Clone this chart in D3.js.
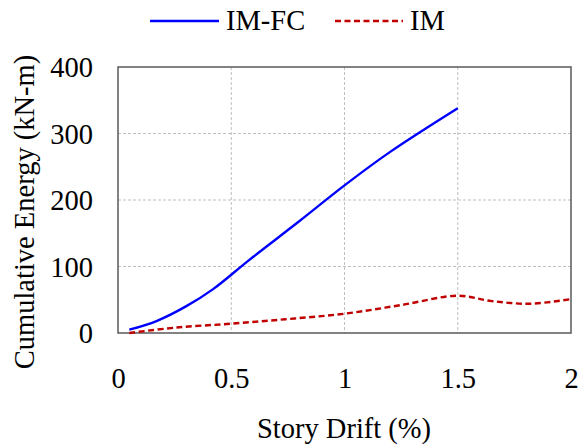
<!DOCTYPE html>
<html><head><meta charset="utf-8">
<script src="https://cdn.jsdelivr.net/npm/d3@7"></script>
<style>body{margin:0;background:#fff}svg{display:block}svg text{font-family:"Liberation Serif","Times New Roman",serif !important}</style>
</head><body>
<svg id="c" width="578" height="445"></svg>
<script>
const imfcX = [0.05, 0.17, 0.30, 0.42, 0.58, 0.80, 1.00, 1.20, 1.50];
const imfcY = [5, 18, 40, 66, 110, 168, 222, 272, 338];
const imX = [0.05, 0.25, 0.50, 0.75, 1.00, 1.25, 1.50, 1.65, 1.82, 2.00];
const imY = [0, 8, 14, 21, 29, 42, 56, 48, 44, 51];
const xTicks = [0, 0.5, 1, 1.5, 2];
const yTicks = [0, 100, 200, 300, 400];
const seriesNames = ["IM-FC", "IM"];

const FONT = '"Liberation Serif", "Times New Roman", serif';
const FS = 28.5;
const svg = d3.select("#c");
const L = 118, R = 571, T = 67, B = 333;
const x = d3.scaleLinear().domain([0, 2]).range([L, R]);
const y = d3.scaleLinear().domain([0, 400]).range([B, T]);

// grid
const g = svg.append("g");
g.selectAll(".gx").data(xTicks.slice(1, -1)).enter().append("line")
  .attr("x1", d => x(d)).attr("x2", d => x(d)).attr("y1", T).attr("y2", B)
  .attr("stroke", "#bfbfbf").attr("stroke-width", 1).attr("stroke-dasharray", "3,2");
g.selectAll(".gy").data(yTicks.slice(1, -1)).enter().append("line")
  .attr("y1", d => y(d)).attr("y2", d => y(d)).attr("x1", L).attr("x2", R)
  .attr("stroke", "#bfbfbf").attr("stroke-width", 1).attr("stroke-dasharray", "3,2");

// axes
const xa = svg.append("g").attr("transform", `translate(0,${B})`)
  .call(d3.axisBottom(x).tickValues(xTicks).tickSize(0).tickFormat(d3.format("")));
const ya = svg.append("g").attr("transform", `translate(${L},0)`)
  .call(d3.axisLeft(y).tickValues(yTicks).tickSize(0).tickPadding(25));
[xa, ya].forEach(a => {
  a.attr("font-family", null).attr("font-size", null);
  a.select(".domain").remove();
  a.selectAll("text").attr("fill", "#000").style("font-family", FONT).style("font-size", FS + "px");
});
xa.selectAll("text").attr("y", 55).attr("dy", 0);
ya.selectAll("text").attr("dy", "0.34em");

// frame
svg.append("rect").attr("x", L).attr("y", T).attr("width", R - L).attr("height", B - T)
  .attr("fill", "none").attr("stroke", "#595959").attr("stroke-width", 1.5);

const line = d3.line().x(d => x(d[0])).y(d => y(d[1])).curve(d3.curveCatmullRom.alpha(0.5));
svg.append("path").datum(imfcX.map((v, i) => [v, imfcY[i]])).attr("d", line)
  .attr("fill", "none").attr("stroke", "#0000ff").attr("stroke-width", 2.4);
svg.append("path").datum(imX.map((v, i) => [v, imY[i]])).attr("d", line)
  .attr("fill", "none").attr("stroke", "#c00000").attr("stroke-width", 2.4).attr("stroke-dasharray", "6,3.5");

// titles
svg.append("text").attr("x", 344).attr("y", 438).attr("text-anchor", "middle")
  .style("font-family", FONT).style("font-size", FS + "px").text("Story Drift (%)");
svg.append("text").attr("transform", "translate(34,212) rotate(-90)").attr("text-anchor", "middle")
  .style("font-family", FONT).style("font-size", FS + "px").text("Cumulative Energy (kN-m)");

// legend
const leg = [{x1: 150, x2: 219, tx: 226, c: "#0000ff", dash: null},
             {x1: 335, x2: 403, tx: 410, c: "#c00000", dash: "6,3.5"}];
leg.forEach((l, i) => {
  svg.append("line").attr("x1", l.x1).attr("x2", l.x2).attr("y1", 21).attr("y2", 21)
    .attr("stroke", l.c).attr("stroke-width", 2.4).attr("stroke-dasharray", l.dash);
  svg.append("text").attr("x", l.tx).attr("y", 30)
    .style("font-family", FONT).style("font-size", FS + "px").text(seriesNames[i]);
});
</script>
</body></html>
